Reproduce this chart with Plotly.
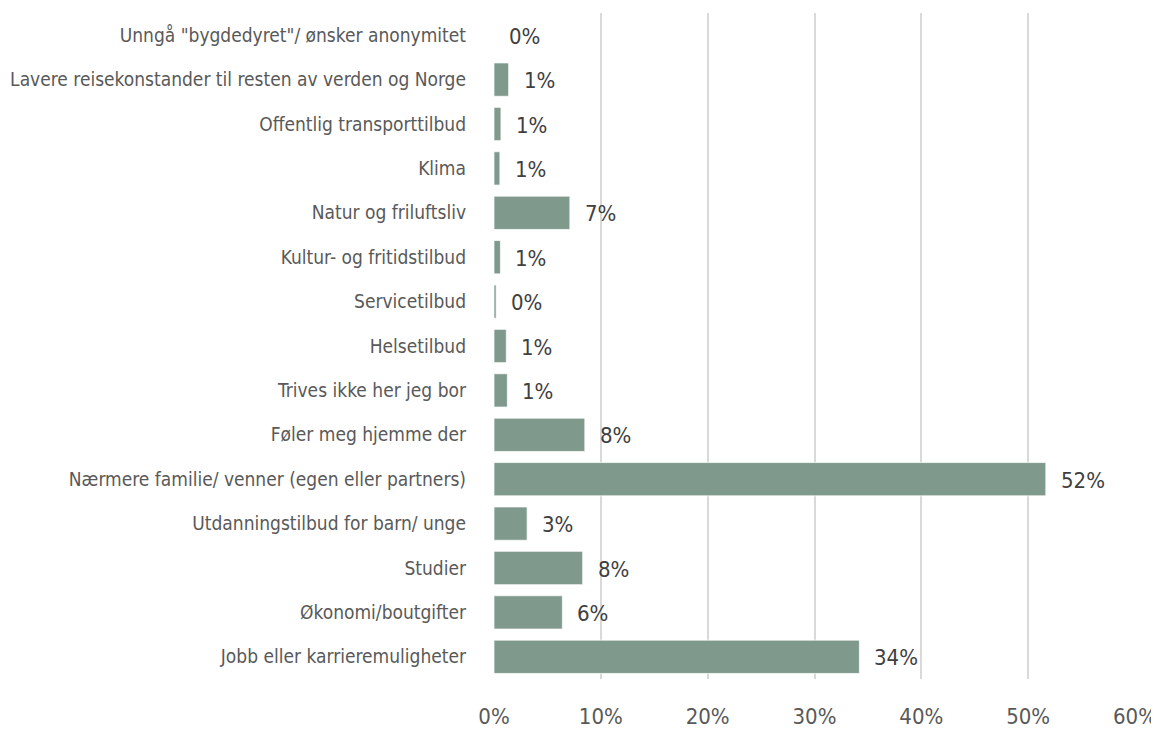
import plotly.graph_objects as go

categories = [
    "Jobb eller karrieremuligheter",
    "Økonomi/boutgifter",
    "Studier",
    "Utdanningstilbud for barn/ unge",
    "Nærmere familie/ venner (egen eller partners)",
    "Føler meg hjemme der",
    "Trives ikke her jeg bor",
    "Helsetilbud",
    "Servicetilbud",
    "Kultur- og fritidstilbud",
    "Natur og friluftsliv",
    "Klima",
    "Offentlig transporttilbud",
    "Lavere reisekonstander til resten av verden og Norge",
    'Unngå "bygdedyret"/ ønsker anonymitet',
]
values = [0.342, 0.064, 0.083, 0.031, 0.5165, 0.085, 0.0125, 0.0115, 0.002, 0.006,
          0.071, 0.0055, 0.0065, 0.0137, 0.0]
labels = ["34%", "6%", "8%", "3%", "52%", "8%", "1%", "1%", "0%", "1%",
          "7%", "1%", "1%", "1%", "0%"]
tick_vals = [0, 0.1, 0.2, 0.3, 0.4, 0.5, 0.6]
tick_text = ["0%", "10%", "20%", "30%", "40%", "50%", "60%"]

FONT = "Liberation Sans Narrow, DejaVu Sans Condensed, DejaVu Sans, sans-serif"

fig = go.Figure()
fig.add_trace(go.Bar(
    x=values, y=categories, orientation="h",
    marker=dict(color="#7F9A8D", line=dict(color="rgba(255,255,255,0.7)", width=1)),
    hoverinfo="skip",
))

annotations = []
for c, v, t in zip(categories, values, labels):
    annotations.append(dict(
        x=v, y=c, xref="x", yref="y", text=t, showarrow=False,
        xanchor="left", yanchor="middle", xshift=13, yshift=-1,
        font=dict(family=FONT, size=22, color="#404040"),
    ))

# page body has an 8px default margin, so the figure is drawn 8px smaller
fig.update_layout(
    width=1151, height=721,
    margin=dict(l=486, r=24, t=5, b=50),
    paper_bgcolor="white", plot_bgcolor="white",
    bargap=0.25,
    showlegend=False,
    annotations=annotations,
    xaxis=dict(
        range=[0, 0.6], tickvals=tick_vals, ticktext=tick_text,
        showgrid=True, gridcolor="#D9D9D9", gridwidth=1.5,
        zeroline=False, showline=False, ticks="",
        tickfont=dict(family=FONT, size=22, color="#595959"),
        ticklabelstandoff=22, automargin=False,
    ),
    yaxis=dict(
        categoryorder="array", categoryarray=categories,
        showgrid=False, zeroline=False, showline=False, ticks="",
        tickfont=dict(family=FONT, size=19, color="#595959"),
        ticklabelstandoff=27, automargin=False,
    ),
)

fig.write_html("out.html")
